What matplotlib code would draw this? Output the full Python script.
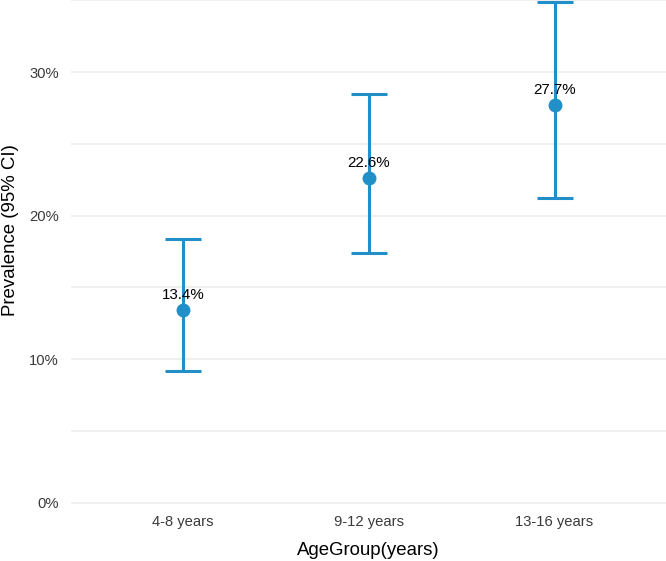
import matplotlib.pyplot as plt
import numpy as np

# values (percent)
age_groups = ["4-8 years", "9-12 years", "13-16 years"]
prevalence = [13.4, 22.6, 27.7]
ci_lower = [9.2, 17.4, 21.2]
ci_upper = [18.4, 28.5, 34.9]

plt.rcParams['font.family'] = ['Liberation Sans', 'DejaVu Sans']

blue = "#2190C8"

fig = plt.figure(figsize=(6.66, 5.61), dpi=100)
ax = fig.add_axes([71.4 / 666, (561 - 508) / 561, 1 - 71.4 / 666, 508 / 561])

x = np.arange(len(age_groups))
prev = np.array(prevalence)
yerr = [prev - np.array(ci_lower), np.array(ci_upper) - prev]

ax.errorbar(x, prev, yerr=yerr, fmt="o", color=blue, ecolor=blue,
            elinewidth=2.2, capsize=13.2, capthick=2.2, markersize=9, zorder=3)

# labels sit on top of the error bar line, like the reference
for xi, p in zip(x, prevalence):
    ax.annotate(f"{p}%", xy=(xi, p), xytext=(0, 8), textcoords="offset points",
                ha="center", va="baseline", fontsize=10.9, color="black", zorder=4)

ax.set_xlim(-0.6, 2.6)
ax.set_ylim(-0.37, 35.03)
ax.set_xticks(x)
ax.set_xticklabels(age_groups)
ax.set_yticks([0, 10, 20, 30])
ax.set_yticklabels(["0%", "10%", "20%", "30%"])
ax.set_yticks([5, 15, 25, 35], minor=True)

ax.grid(axis="y", which="both", color="#EBEBEB", linewidth=1.1)
ax.set_axisbelow(True)
for s in ax.spines.values():
    s.set_visible(False)
ax.tick_params(axis="both", which="both", length=0, labelsize=10.6, labelcolor="#3A3A3A")
ax.tick_params(axis="y", pad=9)
ax.tick_params(axis="x", pad=5)

ax.set_xlabel("AgeGroup(years)", fontsize=13.4, labelpad=9.5)
ax.set_ylabel("Prevalence (95% CI)", fontsize=13.4)
ax.yaxis.set_label_coords((19 - 71.4) / 594.6, (508 - 230) / 508)

fig.savefig("out.png", dpi=100)
